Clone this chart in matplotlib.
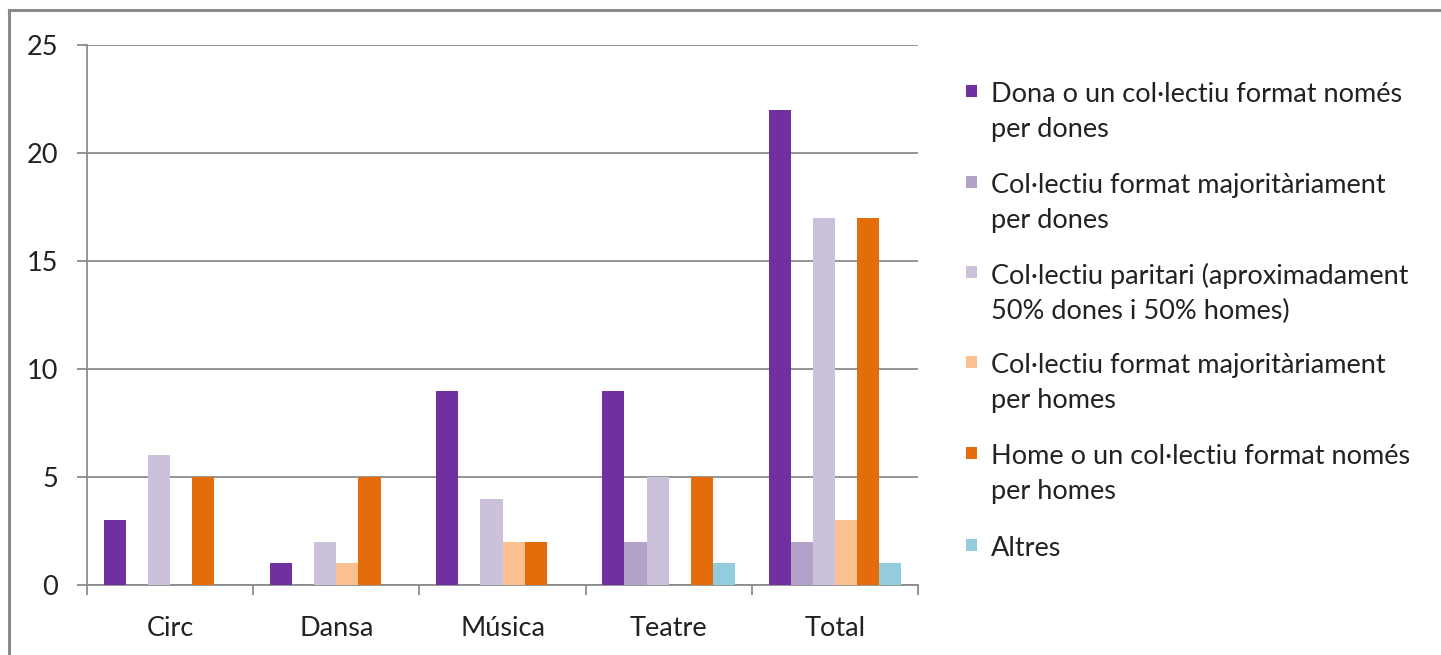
import matplotlib
matplotlib.use("Agg")
import matplotlib.pyplot as plt
import numpy as np
from matplotlib.patches import Rectangle
from matplotlib.lines import Line2D

categories = ["Circ", "Dansa", "Música", "Teatre", "Total"]
series_names = [
    "Dona o un col·lectiu format només\nper dones",
    "Col·lectiu format majoritàriament\nper dones",
    "Col·lectiu paritari (aproximadament\n50% dones i 50% homes)",
    "Col·lectiu format majoritàriament\nper homes",
    "Home o un col·lectiu format només\nper homes",
    "Altres",
]
dona = [3, 1, 9, 9, 22]
maj_dones = [0, 0, 0, 2, 2]
paritari = [6, 2, 4, 5, 17]
maj_homes = [0, 1, 2, 0, 3]
home = [5, 5, 2, 5, 17]
altres = [0, 0, 0, 1, 1]
series_values = [dona, maj_dones, paritari, maj_homes, home, altres]
colors = ["#7030A0", "#B3A2C7", "#CCC1DA", "#FAC090", "#E46C0A", "#93CDDD"]
yticks = [0, 5, 10, 15, 20, 25]

W, H = 1441, 655
FONT = "Lato"
FS = 19.5
TXT = "#222222"
GRID = "#8c8c8c"

fig = plt.figure(figsize=(W / 100, H / 100), dpi=100)
fig.patch.set_facecolor("white")

def fx(px):
    return px / W

def fy(py):
    return 1 - py / H

ax = fig.add_axes([fx(87), fy(585), (918 - 87) / W, (585 - 45) / H])
x = np.arange(len(categories))
bw = 0.133
n = len(series_values)
for i, (vals, c) in enumerate(zip(series_values, colors)):
    off = (i - (n - 1) / 2) * bw
    ax.bar(x + off, vals, width=bw, color=c, edgecolor="none", zorder=3)

ax.set_xlim(-0.5, len(categories) - 0.5)
ax.set_ylim(0, 25)
ax.set_yticks(yticks)
ax.set_yticklabels([str(t) for t in yticks])
ax.yaxis.grid(True, color=GRID, linewidth=1.3, zorder=0)
ax.set_axisbelow(True)
for s in ["top", "right"]:
    ax.spines[s].set_visible(False)
for s in ["left", "bottom"]:
    ax.spines[s].set_color(GRID)
    ax.spines[s].set_linewidth(1.3)
ax.set_xticks(np.arange(-0.5, len(categories), 1.0))
ax.set_xticklabels([])
ax.set_xticks(x, minor=True)
ax.set_xticklabels(categories, minor=True)
ax.tick_params(axis="x", which="major", length=7, width=1.3, color=GRID, direction="out")
ax.tick_params(axis="x", which="minor", length=0, pad=22, labelsize=FS, labelcolor=TXT)
ax.tick_params(axis="y", length=7, width=1.3, color=GRID, pad=14, labelsize=FS, labelcolor=TXT)
for lab in ax.get_xticklabels(minor=True) + ax.get_yticklabels():
    lab.set_fontfamily(FONT)

# legend (manual, first line aligned with square)
leg_centers = [91, 182, 272, 362, 453, 545]
for name, c, yc in zip(series_names, colors, leg_centers):
    fig.patches.append(Rectangle((fx(966), fy(yc + 6)), 11 / W, 12 / H,
                                 transform=fig.transFigure, facecolor=c,
                                 edgecolor="none", figure=fig))
    fig.text(fx(991), fy(yc - 9), name, ha="left", va="top", fontsize=FS,
             fontfamily=FONT, color=TXT, linespacing=1.5)

# outer border (left and top visible)
fig.add_artist(Line2D([fx(9), fx(9)], [fy(10), 0], transform=fig.transFigure,
                      color="#8a8a8a", linewidth=2.2))
fig.add_artist(Line2D([fx(9), 1], [fy(10), fy(10)], transform=fig.transFigure,
                      color="#8a8a8a", linewidth=2.2))

fig.savefig("out.png", dpi=100, facecolor="white")
